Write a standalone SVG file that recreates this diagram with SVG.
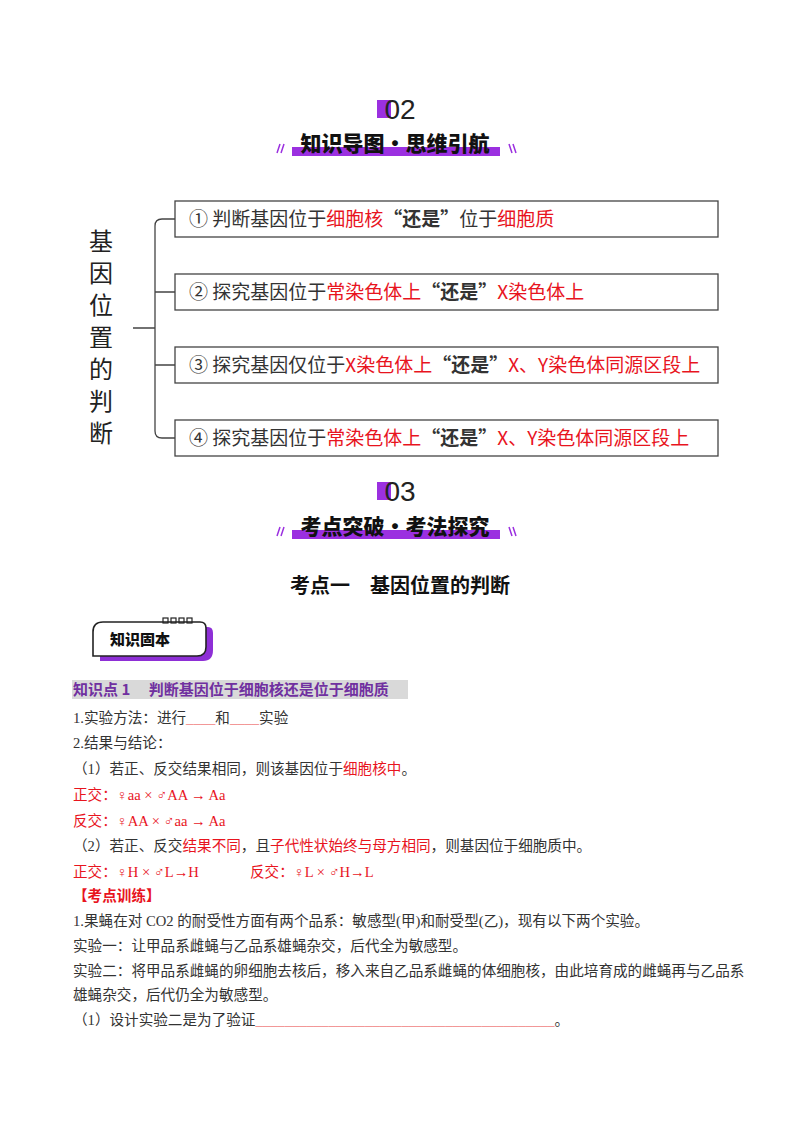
<svg xmlns="http://www.w3.org/2000/svg" width="800" height="1132" viewBox="0 0 800 1132">
<style>
.num{font-family:"Liberation Sans","Noto Sans CJK SC",sans-serif;font-size:28px;fill:#222}
.hd{font-family:"Noto Sans CJK SC",sans-serif;font-weight:900;font-size:21px;fill:#111}
.bx{fill:#fff;stroke:#444;stroke-width:1.3}
.bt{font-family:"Noto Sans CJK SC",sans-serif;font-size:19px;fill:#333}
.r{fill:#e8141e}
.b{font-weight:bold}
.body{font-family:"Liberation Serif","Noto Sans CJK SC",serif;font-size:14.6px;fill:#333}
.red{fill:#e8141e}
.pur{fill:#9b30e0}
.sl{stroke:#9b30e0;stroke-width:1.5}
</style>
<rect width="800" height="1132" fill="#fff"/>
<g id="header02">
<rect x="377" y="100" width="14" height="18" class="pur"/>
<text x="400" y="119" text-anchor="middle" class="num">02</text>
<rect x="292" y="147" width="208" height="9" class="pur"/>
<text x="395" y="151" text-anchor="middle" class="hd">知识导图·思维引航</text>
<line x1="277" y1="153" x2="280" y2="144" class="sl"/><line x1="281" y1="153" x2="284" y2="144" class="sl"/>
<line x1="509" y1="144" x2="512" y2="153" class="sl"/><line x1="513" y1="144" x2="516" y2="153" class="sl"/>
</g>
<g id="root">
<text font-family="Noto Sans CJK SC,sans-serif" font-size="24" fill="#222" text-anchor="middle">
<tspan x="101" y="250">基</tspan><tspan x="101" y="282">因</tspan><tspan x="101" y="314">位</tspan><tspan x="101" y="346">置</tspan><tspan x="101" y="378">的</tspan><tspan x="101" y="410">判</tspan><tspan x="101" y="442">断</tspan>
</text>
</g>
<g id="connectors" fill="none" stroke="#444" stroke-width="1.3">
<path d="M133 328 H155 M175 219 H162 Q155 219 155 226 V431 Q155 438 162 438 H175 M155 292 H175 M155 365 H175"/>
</g>
<g id="n1"><rect x="175" y="201" width="543" height="36" class="bx"/>
<text x="189" y="226" class="bt">① 判断基因位于<tspan class="r">细胞核</tspan><tspan class="b">“还是”</tspan>位于<tspan class="r">细胞质</tspan></text></g>
<g id="n2"><rect x="175" y="274" width="543" height="36" class="bx"/>
<text x="189" y="299" class="bt">② 探究基因位于<tspan class="r">常染色体上</tspan><tspan class="b">“还是”</tspan><tspan class="r">X染色体上</tspan></text></g>
<g id="n3"><rect x="175" y="347" width="543" height="36" class="bx"/>
<text x="189" y="372" class="bt">③ 探究基因仅位于<tspan class="r">X染色体上</tspan><tspan class="b">“还是”</tspan><tspan class="r">X、Y染色体同源区段上</tspan></text></g>
<g id="n4"><rect x="175" y="420" width="543" height="36" class="bx"/>
<text x="189" y="445" class="bt">④ 探究基因位于<tspan class="r">常染色体上</tspan><tspan class="b">“还是”</tspan><tspan class="r">X、Y染色体同源区段上</tspan></text></g>
<g id="header03">
<rect x="377" y="482" width="14" height="18" class="pur"/>
<text x="400" y="501" text-anchor="middle" class="num">03</text>
<rect x="292" y="530" width="208" height="9" class="pur"/>
<text x="395" y="534" text-anchor="middle" class="hd">考点突破·考法探究</text>
<line x1="277" y1="536" x2="280" y2="527" class="sl"/><line x1="281" y1="536" x2="284" y2="527" class="sl"/>
<line x1="509" y1="527" x2="512" y2="536" class="sl"/><line x1="513" y1="527" x2="516" y2="536" class="sl"/>
</g>
<text x="400" y="593" text-anchor="middle" font-family="Noto Sans CJK SC,sans-serif" font-weight="bold" font-size="20" fill="#111">考点一　基因位置的判断</text>
<g id="badge">
<path d="M97 632 Q97 624 105 624 H205 Q210 624 210 630 V647 Q210 658 200 658 H97 Z" fill="#8e2fd6" transform="translate(3 3)"/>
<path d="M103 622 H200 Q206 622 206 628 V647 Q206 656 197 656 H93 V632 Q93 622 103 622 Z" fill="#fff" stroke="#222" stroke-width="1.6"/>
<g fill="none" stroke="#222" stroke-width="1.2"><rect x="163" y="618" width="5" height="5"/><rect x="171" y="618" width="5" height="5"/><rect x="179" y="618" width="5" height="5"/><rect x="187" y="618" width="5" height="5"/></g>
<text x="110" y="645" font-family="Noto Sans CJK SC,sans-serif" font-weight="900" font-size="15" fill="#111">知识固本</text>
</g>
<rect x="72" y="680" width="336" height="19" fill="#d9d9d9"/>
<text x="73" y="695" font-family="Noto Sans CJK SC,sans-serif" font-weight="bold" font-size="15" fill="#7030a0">知识点 1　 判断基因位于细胞核还是位于细胞质</text>
<g class="body">
<text x="73" y="723">1.实验方法：进行<tspan fill="#f08080">____</tspan>和<tspan fill="#f08080">____</tspan>实验</text>
<text x="73" y="748">2.结果与结论：</text>
<text x="73" y="774">（1）若正、反交结果相同，则该基因位于<tspan class="red">细胞核中</tspan>。</text>
<text x="73" y="800" class="red">正交：♀aa × ♂AA → Aa</text>
<text x="73" y="826" class="red">反交：♀AA × ♂aa → Aa</text>
<text x="73" y="851">（2）若正、反交<tspan class="red">结果不同</tspan>，且<tspan class="red">子代性状始终与母方相同</tspan>，则基因位于细胞质中。</text>
<text x="73" y="877" class="red">正交：♀H × ♂L→H</text>
<text x="250" y="877" class="red">反交：♀L × ♂H→L</text>
<text x="73" y="901" class="red b">【考点训练】</text>
<text x="73" y="926">1.果蝇在对 CO2 的耐受性方面有两个品系：敏感型(甲)和耐受型(乙)，现有以下两个实验。</text>
<text x="73" y="951">实验一：让甲品系雌蝇与乙品系雄蝇杂交，后代全为敏感型。</text>
<text x="73" y="976">实验二：将甲品系雌蝇的卵细胞去核后，移入来自乙品系雌蝇的体细胞核，由此培育成的雌蝇再与乙品系</text>
<text x="73" y="1000">雄蝇杂交，后代仍全为敏感型。</text>
<text x="73" y="1025">（1）设计实验二是为了验证<tspan fill="#f08080">_________________________________________</tspan>。</text>
</g>
</svg>
